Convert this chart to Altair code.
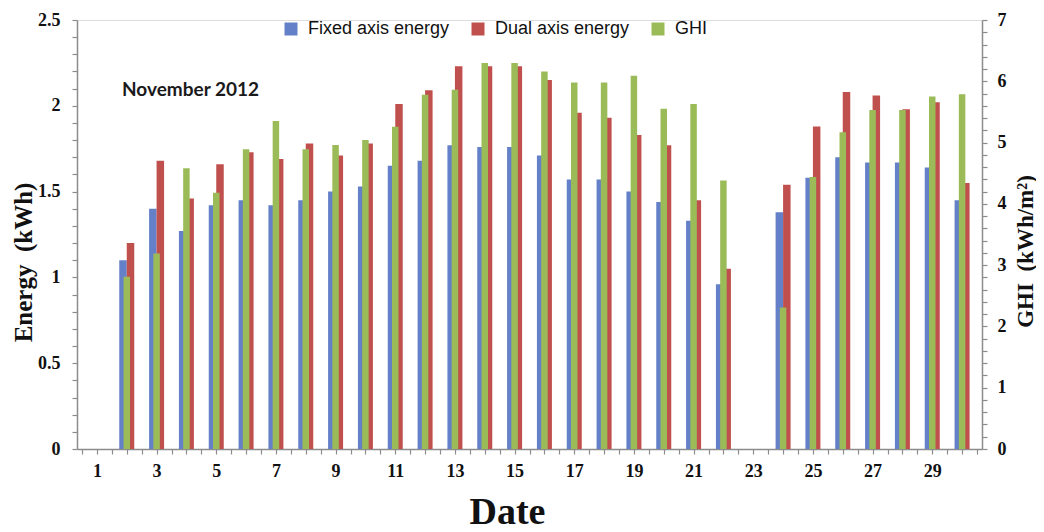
import altair as alt
import pandas as pd

dates = list(range(1, 31))
fixed = [None, 1.10, 1.40, 1.27, 1.42, 1.45, 1.42, 1.45, 1.50, 1.53, 1.65, 1.68, 1.77, 1.76, 1.76,
         1.71, 1.57, 1.57, 1.50, 1.44, 1.33, 0.96, None, 1.38, 1.58, 1.70, 1.67, 1.67, 1.64, 1.45]
dual = [None, 1.20, 1.68, 1.46, 1.66, 1.73, 1.69, 1.78, 1.71, 1.78, 2.01, 2.09, 2.23, 2.23, 2.23,
        2.15, 1.96, 1.93, 1.83, 1.77, 1.45, 1.05, None, 1.54, 1.88, 2.08, 2.06, 1.98, 2.02, 1.55]
ghi = [None, 2.81, 3.19, 4.58, 4.18, 4.89, 5.35, 4.89, 4.96, 5.04, 5.26, 5.78, 5.86, 6.30, 6.30,
       6.16, 5.98, 5.98, 6.09, 5.55, 5.63, 4.38, None, 2.31, 4.44, 5.17, 5.53, 5.53, 5.75, 5.79]
series_names = ["Fixed axis energy", "Dual axis energy", "GHI"]
series_colors = ["#6480C8", "#C0504D", "#9BBB59"]
note = ["November 2012"]

x_ticks = [i / 2 for i in range(1, 62)]
left_ticks = [round(i * 0.1, 1) for i in range(26)]
right_ticks = [round(i * 0.2, 1) for i in range(36)]


def frame(vals, name, field):
    df = pd.DataFrame({"Date": dates, field: vals, "series": name})
    return df.dropna()


SERIF = "Liberation Serif"
AX = "#8c8c8c"

color = alt.Color(
    "series:N",
    scale=alt.Scale(domain=series_names, range=series_colors),
    legend=alt.Legend(
        title=None, orient="none", legendX=205, legendY=0, direction="horizontal",
        symbolType="square", symbolSize=169, symbolStrokeWidth=0,
        labelFont="Liberation Sans", labelFontSize=18, labelColor="#111",
        columnPadding=19, labelOffset=8,
    ),
)

x_enc = alt.X(
    "Date:Q",
    scale=alt.Scale(domain=[0.5, 30.5], nice=False, zero=False),
    axis=alt.Axis(
        values=x_ticks,
        labelExpr="datum.value % 2 == 1 ? format(datum.value, 'd') : ''",
        title="Date", titleFont=SERIF, titleFontSize=38, titleFontWeight="bold",
        titleColor="#111", titleX=430, titleY=74, titleBaseline="alphabetic",
        titleAlign="center",
        labelFont=SERIF, labelFontSize=18, labelFontWeight="bold", labelColor="#111",
        labelPadding=8, tickSize=5, tickColor=AX, domainColor=AX, domainWidth=1.5,
        tickWidth=1.2, grid=False, labelFlush=False, labelOverlap=False,
    ),
)

y_energy = alt.Y(
    "energy:Q",
    scale=alt.Scale(domain=[0, 2.5], nice=False),
    axis=alt.Axis(
        orient="left", values=left_ticks,
        labelExpr="abs(datum.value*2 - round(datum.value*2)) < 0.01 ? format(datum.value, '~g') : ''",
        title="Energy\u00a0 (kWh)", titleFont=SERIF, titleFontSize=25, titleFontWeight="bold",
        titleColor="#111", titleAngle=270, titleX=-54, titleY=242, titleBaseline="middle",
        titleAlign="center",
        labelFont=SERIF, labelFontSize=18, labelFontWeight="bold", labelColor="#111",
        labelPadding=12, tickSize=5, tickColor=AX, domainColor=AX, domainWidth=1.5,
        tickWidth=1.2, grid=False, labelOverlap=False,
    ),
)

y_ghi = alt.Y(
    "ghi:Q",
    scale=alt.Scale(domain=[0, 7], nice=False),
    axis=alt.Axis(
        orient="right", values=right_ticks,
        labelExpr="abs(datum.value - round(datum.value)) < 0.01 ? format(datum.value, 'd') : ''",
        title="GHI\u00a0 (kWh/m\u00b2)", titleFont=SERIF, titleFontSize=23, titleFontWeight="bold",
        titleColor="#111", titleAngle=270, titleX=43, titleY=231, titleBaseline="middle",
        titleAlign="center",
        labelFont=SERIF, labelFontSize=18, labelFontWeight="bold", labelColor="#111",
        labelPadding=10, tickSize=5, tickColor=AX, domainColor=AX, domainWidth=1.5,
        tickWidth=1.2, grid=False, labelOverlap=False,
    ),
)

blue = alt.Chart(frame(fixed, series_names[0], "energy")).mark_bar(
    size=7.5, xOffset=-3.75, orient="vertical"
).encode(x=x_enc, y=y_energy, color=color)

red = alt.Chart(frame(dual, series_names[1], "energy")).mark_bar(
    size=7.5, xOffset=3.75, orient="vertical"
).encode(x=x_enc, y=y_energy, color=color)

green = alt.Chart(frame(ghi, series_names[2], "ghi")).mark_bar(
    size=6.5, orient="vertical"
).encode(x=x_enc, y=y_ghi, color=color)

label = alt.Chart(pd.DataFrame({"t": note})).mark_text(
    font="Lato", fontSize=19, fontWeight="bold", color="#1a1a1a", align="left", baseline="middle"
).encode(x=alt.value(45), y=alt.value(70), text="t:N")

energy = alt.layer(blue, red)

chart = alt.layer(energy, green, label).resolve_scale(y="independent").properties(
    width=905, height=429,
    autosize=alt.AutoSizeParams(type="none"),
    padding={"left": 69, "top": 12, "right": 54, "bottom": 90},
).configure_view(stroke=None).configure(background="white")

chart.save("out.html", embed_options={"renderer": "svg", "actions": False})
